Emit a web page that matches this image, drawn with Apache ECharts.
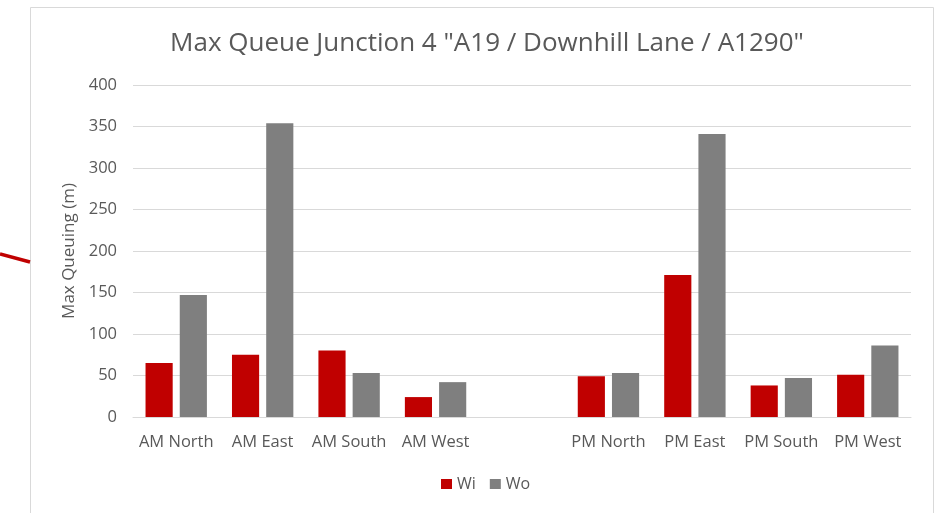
<!DOCTYPE html>
<html>
<head>
<meta charset="utf-8">
<script src="https://cdn.jsdelivr.net/npm/echarts@6/dist/echarts.min.js"></script>
<style>
  html, body { margin: 0; padding: 0; background: #fff; }
  #chart { width: 941px; height: 513px; }
</style>
</head>
<body>
<div id="chart"></div>
<script>
// Approaches; the blank entry separates the AM and PM peaks
const categories = ['AM North', 'AM East', 'AM South', 'AM West', '', 'PM North', 'PM East', 'PM South', 'PM West'];
const wiValues = [65, 75, 80, 24, null, 49, 171, 38, 51];
const woValues = [147, 354, 53, 42, null, 53, 341, 47, 86];
const yTicks = { min: 0, max: 400, interval: 50 };

const FONT = '"Open Sans", "Liberation Sans", sans-serif';
const chart = echarts.init(document.getElementById('chart'), null, { renderer: 'canvas' });

chart.setOption({
  backgroundColor: '#ffffff',
  animation: false,
  title: {
    text: 'Max Queue Junction 4 "A19 / Downhill Lane / A1290"',
    left: 482,
    top: 26,
    textAlign: 'center',
    textStyle: { fontFamily: FONT, fontSize: 26, fontWeight: 'normal', color: '#595959' }
  },
  legend: {
    bottom: 21,
    left: 441,
    itemWidth: 11,
    itemHeight: 10,
    itemGap: 14,
    icon: 'rect',
    padding: 0,
    textStyle: { fontFamily: FONT, fontSize: 16, color: '#595959' },
    data: ['Wi', 'Wo']
  },
  grid: { left: 133, right: 30, top: 85, bottom: 96, containLabel: false },
  xAxis: {
    type: 'category',
    data: categories,
    axisLine: { show: true, lineStyle: { color: '#d9d9d9', width: 1 } },
    axisTick: { show: false },
    axisLabel: { fontFamily: FONT, fontSize: 16.5, color: '#595959', margin: 17, interval: 0 }
  },
  yAxis: {
    type: 'value',
    min: yTicks.min,
    max: yTicks.max,
    interval: yTicks.interval,
    name: 'Max Queuing (m)',
    nameLocation: 'middle',
    nameGap: 55,
    nameRotate: 90,
    nameTextStyle: { fontFamily: FONT, fontSize: 17, color: '#595959' },
    axisLine: { show: false },
    axisTick: { show: false },
    axisLabel: { fontFamily: FONT, fontSize: 16.5, color: '#595959', margin: 16 },
    splitLine: { lineStyle: { color: '#d9d9d9', width: 1 } }
  },
  series: [
    {
      name: 'Wi', type: 'bar', data: wiValues,
      itemStyle: { color: '#c00000' },
      barGap: '26%', barCategoryGap: '29%'
    },
    {
      name: 'Wo', type: 'bar', data: woValues,
      itemStyle: { color: '#7f7f7f' },
      barGap: '26%', barCategoryGap: '29%'
    }
  ],
  graphic: [
    {
      type: 'rect',
      shape: { x: 30.5, y: 7.5, width: 903, height: 520 },
      style: { fill: 'none', stroke: '#d9d9d9', lineWidth: 1 },
      silent: true, z: -1
    },
    {
      type: 'line',
      shape: { x1: 0, y1: 254, x2: 30, y2: 262 },
      style: { stroke: '#c00000', lineWidth: 3.5 },
      silent: true
    }
  ]
});
</script>
</body>
</html>
